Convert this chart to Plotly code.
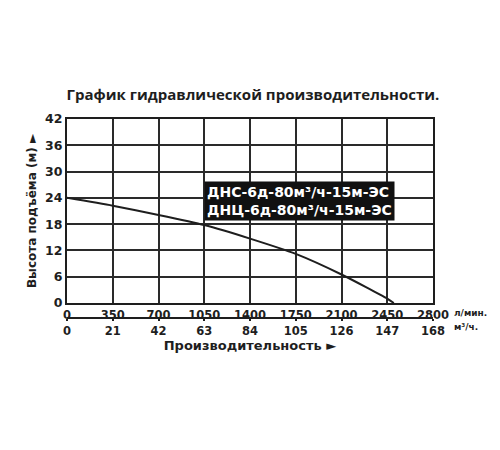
import plotly.graph_objects as go

# Data
flow_lpm = [0, 350, 700, 1050, 1400, 1750, 2100, 2450, 2500]
head_m = [24, 22.2, 20.1, 17.8, 14.7, 11.2, 6.5, 1.0, 0]
x_ticks_lpm = [0, 350, 700, 1050, 1400, 1750, 2100, 2450, 2800]
x_ticks_m3h = [0, 21, 42, 63, 84, 105, 126, 147, 168]
y_ticks = [0, 6, 12, 18, 24, 30, 36, 42]
model_labels = ["ДНС-6д-80м³/ч-15м-ЭС", "ДНЦ-6д-80м³/ч-15м-ЭС"]
label_point = (1050, 18)

FONT = "DejaVu Sans"
INK = "#1e1e1e"

fig = go.Figure()
fig.add_trace(go.Scatter(
    x=flow_lpm, y=head_m, mode="lines",
    line=dict(color=INK, width=2, shape="spline", smoothing=0.6),
    hoverinfo="skip", showlegend=False,
))
# invisible trace for the secondary axis
fig.add_trace(go.Scatter(
    x=[x_ticks_m3h[0], x_ticks_m3h[-1]], y=[0, 0], xaxis="x2",
    mode="lines", line=dict(width=0), hoverinfo="skip", showlegend=False,
))

fig.update_layout(
    width=500, height=450,
    paper_bgcolor="white", plot_bgcolor="white",
    margin=dict(l=59, r=75, t=111, b=140, autoexpand=False),
    font=dict(family=FONT, color=INK),
    title=dict(
        text="<b>График гидравлической производительности.</b>",
        font=dict(family="Open Sans", size=15, color=INK),
        x=(253 - 8) / 500, xanchor="center", y=1 - 87 / 450, yanchor="middle",
        automargin=False,
    ),
    xaxis=dict(
        range=[0, 2800], tickvals=x_ticks_lpm,
        ticktext=[f"<b>{v}</b>" for v in x_ticks_lpm],
        showgrid=True, gridcolor="#2a2a2a", gridwidth=1.5,
        showline=True, linecolor=INK, linewidth=2, mirror=True,
        ticks="", tickfont=dict(family=FONT, size=11.5, color=INK),
        zeroline=False, anchor="y", automargin=False,
    ),
    xaxis2=dict(
        range=[0, 168], tickvals=x_ticks_m3h,
        ticktext=[f"<b>{v}</b>" for v in x_ticks_m3h],
        overlaying="x", anchor="free", position=0, side="bottom",
        showgrid=False, zeroline=False, automargin=False,
        showline=True, linecolor=INK, linewidth=1.5,
        ticks="outside", ticklen=2, tickwidth=1.5, tickcolor=INK,
        tickfont=dict(family=FONT, size=11.5, color=INK),
        title=dict(text="<b>Производительность ►</b>",
                   font=dict(family=FONT, size=13, color=INK), standoff=0),
    ),
    yaxis=dict(
        range=[0, 42], tickvals=y_ticks,
        ticktext=[f"<b>{v}</b>" for v in y_ticks],
        domain=[15 / 199, 1], automargin=False,
        showgrid=True, gridcolor="#2a2a2a", gridwidth=1.5,
        showline=True, linecolor=INK, linewidth=2, mirror=True,
        ticks="", tickfont=dict(family=FONT, size=12.5, color=INK),
        zeroline=False,
        title=dict(text="<b>Высота подъёма (м) ►</b>",
                   font=dict(family=FONT, size=12, color=INK), standoff=6),
    ),
)

fig.add_annotation(
    x=label_point[0], y=label_point[1], xref="x", yref="y",
    xanchor="left", yanchor="bottom", yshift=3, showarrow=False,
    text="<br>".join(f"<b>{t}</b>" for t in model_labels), align="left",
    bgcolor="#111111", borderpad=2,
    font=dict(family=FONT, size=14, color="white"),
)
fig.add_annotation(
    x=1.052, y=15 / 199, xref="paper", yref="paper",
    xanchor="left", yanchor="top", yshift=-3, showarrow=False,
    text="<b>л/мин.</b>", font=dict(family=FONT, size=9, color=INK),
)
fig.add_annotation(
    x=1.052, y=0, xref="paper", yref="paper",
    xanchor="left", yanchor="top", yshift=-2, showarrow=False,
    text="<b>м³/ч.</b>", font=dict(family=FONT, size=9, color=INK),
)

fig.write_html("out.html")
